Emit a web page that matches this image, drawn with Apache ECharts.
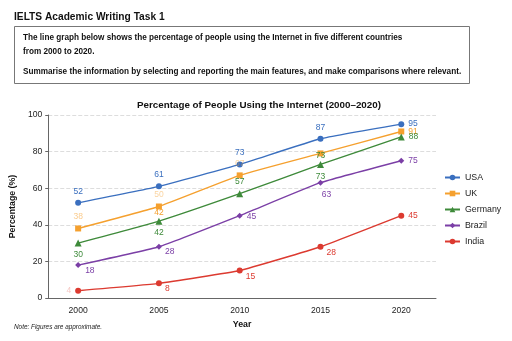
<!DOCTYPE html>
<html>
<head>
<meta charset="utf-8">
<script src="https://cdn.jsdelivr.net/npm/echarts@6/dist/echarts.min.js"></script>
<style>
  html, body { margin: 0; padding: 0; background: #fff; }
  #chart { width: 512px; height: 341px; }
</style>
</head>
<body>
<div id="chart"></div>
<script>
// données
const years = [2000, 2005, 2010, 2015, 2020];
const usa = [52, 61, 73, 87, 95];
const uk = [38, 50, 67, 79, 91];
const germany = [30, 42, 57, 73, 88];
const brazil = [18, 28, 45, 63, 75];
const india = [4, 8, 15, 28, 45];
const yTicks = [0, 20, 40, 60, 80, 100];

const FONT = "'Liberation Sans', Arial, sans-serif";

const chart = echarts.init(document.getElementById("chart"));

// position des étiquettes point par point
const lbl = (pos, offset, opacity) => ({
  show: true,
  position: pos,
  offset: offset || [0, 0],
  distance: 4,
  opacity: opacity == null ? 1 : opacity,
});

const makeSeries = (name, values, color, symbol, labels, extra) =>
  Object.assign(
    {
      name: name,
      type: "line",
      symbol: symbol,
      symbolSize: symbol === "triangle" ? 7 : 6,
      smooth: 0.12,
      lineStyle: { width: 1.4, color: color },
      itemStyle: { color: color },
      label: { fontSize: 8.5, color: color, fontFamily: FONT },
      data: values.map((v, i) => ({
        value: [years[i], v],
        label: labels[i],
      })),
    },
    extra || {}
  );

const hide = { show: false };

const option = {
  backgroundColor: "#fff",
  animation: false,
  textStyle: { fontFamily: FONT },
  graphic: [
    {
      type: "text",
      left: 14,
      top: 12,
      style: { text: "IELTS Academic Writing Task 1", font: "bold 10.2px " + FONT, fill: "#111" },
    },
    {
      type: "rect",
      shape: { x: 14.5, y: 26.5, width: 455, height: 57 },
      style: { fill: "#fff", stroke: "#777", lineWidth: 1 },
      z: -1,
    },
    {
      type: "text",
      left: 23,
      top: 34,
      style: {
        text: "The line graph below shows the percentage of people using the Internet in five different countries",
        font: "bold 8.2px " + FONT,
        fill: "#111",
      },
    },
    {
      type: "text",
      left: 23,
      top: 48,
      style: { text: "from 2000 to 2020.", font: "bold 8.2px " + FONT, fill: "#111" },
    },
    {
      type: "text",
      left: 23,
      top: 68,
      style: {
        text: "Summarise the information by selecting and reporting the main features, and make comparisons where relevant.",
        font: "bold 8.2px " + FONT,
        fill: "#111",
      },
    },
    {
      type: "text",
      left: 14,
      top: 324,
      style: { text: "Note: Figures are approximate.", font: "italic 6.4px " + FONT, fill: "#222" },
    },
  ],
  title: {
    text: "Percentage of People Using the Internet (2000\u20132020)",
    left: 254,
    textAlign: "center",
    top: 95,
    textStyle: { fontSize: 9.8, fontWeight: "bold", color: "#111", fontFamily: FONT },
  },
  legend: {
    orient: "vertical",
    left: 439,
    top: 168,
    itemWidth: 15,
    itemHeight: 7,
    itemGap: 7,
    textStyle: { fontSize: 8.8, color: "#222", fontFamily: FONT },
    data: ["USA", "UK", "Germany", "Brazil", "India"],
  },
  grid: { left: 46, right: 76, top: 115, bottom: 43 },
  xAxis: {
    type: "value",
    min: 1998.15,
    max: 2022.15,
    name: "Year",
    nameLocation: "middle",
    nameGap: 21,
    nameTextStyle: { fontSize: 8.8, fontWeight: "bold", color: "#111" },
    axisLine: { lineStyle: { color: "#666" } },
    axisTick: { show: false },
    axisLabel: {
      customValues: years,
      formatter: (v) => String(v),
      fontSize: 8.6,
      color: "#222",
      margin: 8,
    },
    splitLine: { show: false },
  },
  yAxis: {
    type: "value",
    min: 0,
    max: 100,
    interval: 20,
    name: "Percentage (%)",
    nameLocation: "middle",
    nameGap: 27,
    nameTextStyle: { fontSize: 8.8, fontWeight: "bold", color: "#111" },
    axisLine: { show: true, lineStyle: { color: "#666" } },
    axisTick: { show: true, length: 3, lineStyle: { color: "#666" } },
    axisLabel: {
      customValues: yTicks,
      fontSize: 8.6,
      color: "#222",
      margin: 6,
    },
    splitLine: { show: true, lineStyle: { type: "dashed", color: "#ddd" } },
  },
  series: [
    makeSeries("USA", usa, "#3a6fbf", "circle", [
      lbl("top"), lbl("top"), lbl("top"), lbl("top"), lbl("right"),
    ]),
    makeSeries("UK", uk, "#f5a02e", "rect", [
      lbl("top", [0, 0], 0.55), lbl("top", [0, 0], 0.45), lbl("top", [0, 0], 0.45), hide, lbl("right"),
    ]),
    makeSeries("Germany", germany, "#3e8a3a", "triangle", [
      lbl("bottom"), lbl("bottom"), lbl("top"), lbl("bottom"), lbl("right"),
    ], {
      markPoint: {
        symbolSize: 0,
        silent: true,
        label: { show: true, position: "top", distance: 4, fontSize: 8.5, fontFamily: FONT },
        data: [
          { coord: [years[1], germany[1]], value: germany[1], label: { color: "#f5a02e" } },
          { coord: [years[3], germany[3]], value: germany[3], label: { color: "#3e8a3a" } },
        ],
      },
    }),
    makeSeries("Brazil", brazil, "#7b3fa6", "diamond", [
      lbl("right", [0, 6]), lbl("right", [-1, 5]), lbl("right", [0, 1]), lbl("bottom", [6, 0]), lbl("right"),
    ]),
    makeSeries("India", india, "#dc3a30", "circle", [
      lbl("left", [0, 0], 0.3), lbl("right", [-1, 5]), lbl("right", [-1, 6]), lbl("right", [-1, 6]), lbl("right"),
    ]),
  ],
};

chart.setOption(option);
</script>
</body>
</html>
